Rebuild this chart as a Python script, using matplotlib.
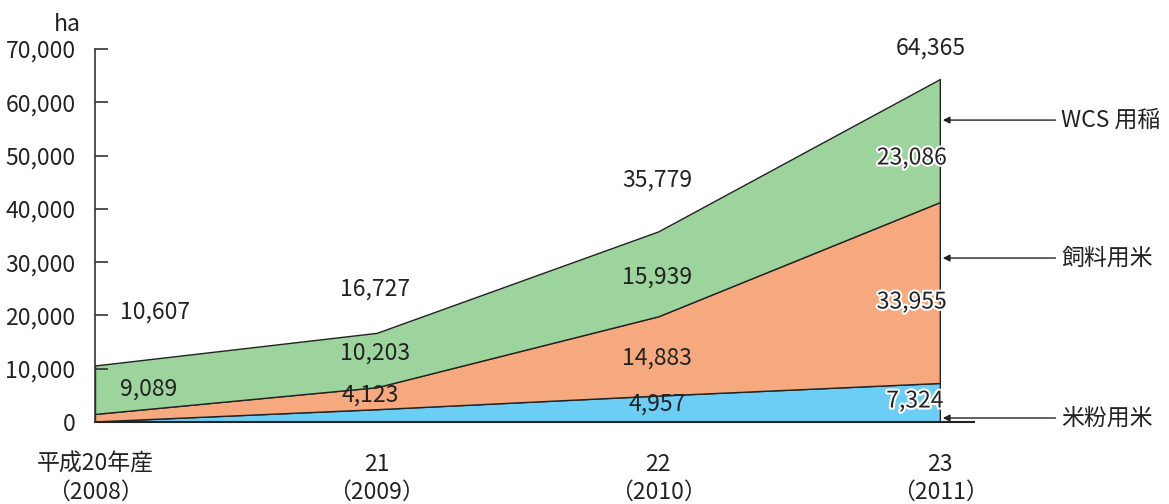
import numpy as np
import matplotlib.pyplot as plt
import matplotlib.patheffects as pe

plt.rcParams['font.family'] = ['Noto Sans CJK JP', 'DejaVu Sans']

# data (ha)
years = ['平成20年産\n（2008）', '21\n（2009）', '22\n（2010）', '23\n（2011）']
rice_flour = [108, 2401, 4957, 7324]      # 米粉用米
feed_rice = [1410, 4123, 14883, 33955]    # 飼料用米
wcs = [9089, 10203, 15939, 23086]         # WCS用稲
totals = [10607, 16727, 35779, 64365]
series_names = ['米粉用米', '飼料用米', 'WCS 用稲']
colors = ['#6CCEF5', '#F6A87E', '#9DD39D']

x = np.arange(len(years))
stack = np.vstack([rice_flour, feed_rice, wcs])
cum = np.cumsum(stack, axis=0)

fig = plt.figure(figsize=(11.69, 5.04), dpi=100)
ax = fig.add_axes([95 / 1169, 82 / 504, 845 / 1169, 373 / 504])

lower = np.zeros(len(x))
for vals, top, c in zip(stack, cum, colors):
    ax.fill_between(x, lower, top, facecolor=c, edgecolor='#222222', linewidth=1.0)
    lower = top
ax.plot([x[-1], x[-1]], [0, cum[-1][-1]], color='#222222', lw=1.0)
ax.plot([x[0], x[-1] + 0.12], [0, 0], color='#222222', lw=1.5, clip_on=False)

ax.set_xlim(0, 3)
ax.set_ylim(0, 70000)
for s in ['top', 'right', 'bottom']:
    ax.spines[s].set_visible(False)
ax.spines['left'].set_color('#333333')
ax.spines['left'].set_linewidth(1.2)
ax.set_yticks(np.arange(0, 70001, 10000))
ax.set_yticklabels([f'{v:,}' for v in range(0, 70001, 10000)])
ax.tick_params(axis='y', direction='in', length=9, width=1.2, color='#333333',
               labelsize=16.5, labelcolor='#222222', pad=14)
ax.set_xticks(x)
ax.set_xticklabels(years, fontsize=16.5, color='#222222', linespacing=1.3)
ax.tick_params(axis='x', length=0, pad=22)
ax.text(-0.05, 72500, 'ha', fontsize=16.5, ha='right', va='bottom', color='#222222')

# value labels
label_pos = {
    'total': [(0.213, 20700), (0.994, 24960), (1.995, 45400), (2.968, 70200)],
    'wcs': [(0.19, 6200), (0.994, 12950), (1.995, 27200), (2.90, 49550)],
    'feed': [(None, None), (0.976, 5070), (1.995, 12010), (2.90, 22520)],
    'flour': [(None, None), (None, None), (1.995, 3380), (2.911, 3940)],
}
halo = [pe.withStroke(linewidth=3, foreground='white')]
for key, vals in [('total', totals), ('wcs', wcs), ('feed', feed_rice), ('flour', rice_flour)]:
    for i, (px, py) in enumerate(label_pos[key]):
        if px is None:
            continue
        t = ax.text(px, py, f'{vals[i]:,}', fontsize=16.5, ha='center', va='center',
                    color='#222222')
        if i == 3 and key != 'total':
            t.set_path_effects(halo)

# series arrows on the right
arrow_y = [750, 30770, 56660]
for name, yy in zip(series_names, arrow_y):
    ax.annotate('', xy=(3.01, yy), xytext=(3.41, yy),
                arrowprops=dict(arrowstyle='-|>', color='#222222', lw=1.0,
                                mutation_scale=10, shrinkA=0, shrinkB=0),
                annotation_clip=False)
    ax.text(3.43, yy, name, fontsize=16.5, ha='left', va='center', color='#222222',
            clip_on=False)

fig.savefig('out.png', dpi=100)
